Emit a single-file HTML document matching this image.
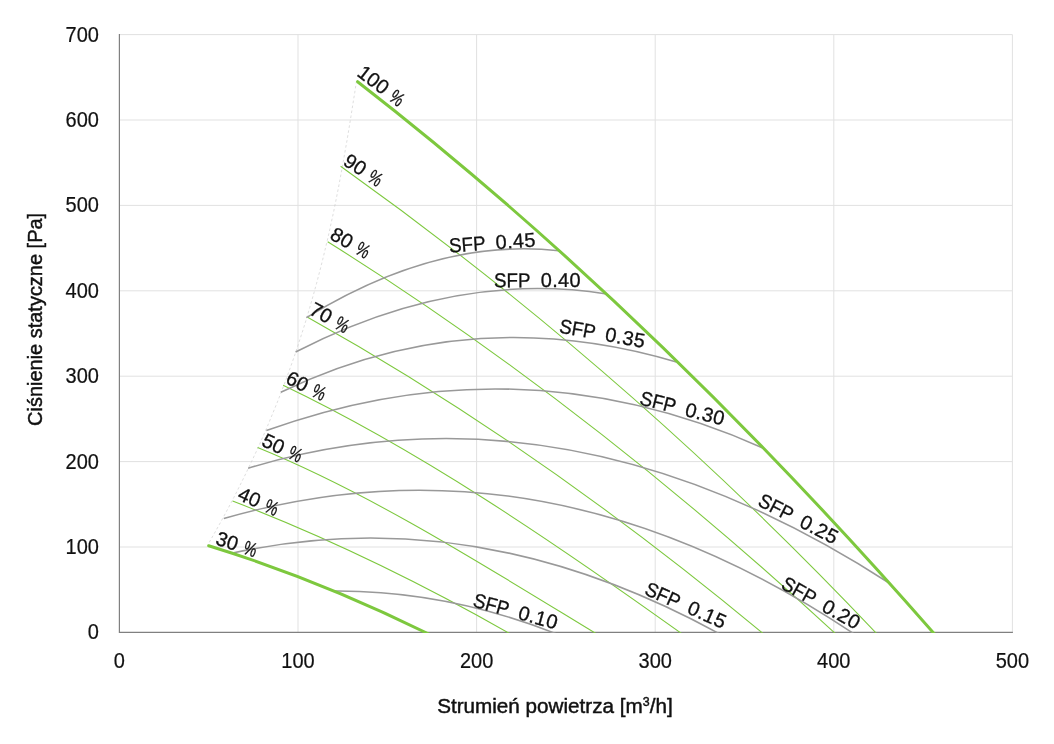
<!DOCTYPE html>
<html lang="pl">
<head>
<meta charset="utf-8">
<title>Charakterystyka wentylatora</title>
<style>
html,body{margin:0;padding:0;background:#fff;}
body{width:1054px;height:744px;overflow:hidden;}
svg{display:block;will-change:transform;font-family:"Liberation Sans",Arial,sans-serif;fill:#111;}
.grid line{stroke:#e1e1e1;stroke-width:1;}
.axis{stroke:#808080;stroke-width:1.2;fill:none;}
.tick{font-size:20px;stroke:#111;stroke-width:.2px;}
.title{font-size:20px;stroke:#111;stroke-width:.45px;}
.fan path{fill:none;stroke:#7dc83e;stroke-width:1.05;}
.fan path.thick{stroke-width:3;stroke-linecap:round;}
.sfp path{fill:none;stroke:#999;stroke-width:1.55;}
.bound{fill:none;stroke:#c8c8c8;stroke-width:.6;stroke-dasharray:2.6 2.4;}
.lab{font-size:20px;stroke:#111;stroke-width:.3px;}
</style>
</head>
<body>
<svg width="1054" height="744" viewBox="0 0 1054 744">
<rect width="1054" height="744" fill="#fff"/>

<g class="grid">
<line x1="119.4" y1="547.0" x2="1012.4" y2="547.0"/>
<line x1="119.4" y1="461.6" x2="1012.4" y2="461.6"/>
<line x1="119.4" y1="376.2" x2="1012.4" y2="376.2"/>
<line x1="119.4" y1="290.8" x2="1012.4" y2="290.8"/>
<line x1="119.4" y1="205.4" x2="1012.4" y2="205.4"/>
<line x1="119.4" y1="120.0" x2="1012.4" y2="120.0"/>
<line x1="119.4" y1="34.6" x2="1012.4" y2="34.6"/>
<line x1="298.0" y1="34.6" x2="298.0" y2="632.4"/>
<line x1="476.6" y1="34.6" x2="476.6" y2="632.4"/>
<line x1="655.2" y1="34.6" x2="655.2" y2="632.4"/>
<line x1="833.8" y1="34.6" x2="833.8" y2="632.4"/>
<line x1="1012.4" y1="34.6" x2="1012.4" y2="632.4"/>
</g>
<path class="axis" d="M119.4 34.1V632.4H1012.9"/>
<clipPath id="plot"><rect x="0" y="0" width="1054" height="633.0"/></clipPath>
<g clip-path="url(#plot)">
<path class="bound" d="M356.5 80.9 L354.7 92.8 L352.8 104.7 L350.9 116.6 L349.0 128.5 L347.0 140.4 L344.9 152.3 L342.8 164.2 L340.6 176.1 L338.4 188.0 L336.0 200.0 L333.6 211.9 L331.0 223.8 L328.4 235.7 L325.6 247.6 L322.7 259.5 L319.7 271.4 L316.6 283.3 L313.3 295.2 L309.9 307.1 L306.4 319.0 L302.7 330.9 L298.8 342.8 L294.9 354.7 L290.7 366.6 L286.4 378.5 L281.9 390.4 L277.3 402.3 L272.4 414.2 L267.5 426.1 L262.3 438.1 L257.0 450.0 L251.4 461.9 L245.7 473.8 L239.8 485.7 L233.8 497.6 L227.5 509.5 L221.1 521.4 L214.4 533.3 L207.6 545.2"/>
<g class="fan">
<path d="M340.6 166.2C520.2 294.1 699.8 446.0 879.4 636.5"/>
<path d="M327.7 241.8C497.8 347.9 667.9 478.9 838.0 636.0"/>
<path d="M307.6 317.2C460.3 402.4 612.9 508.6 765.6 635.6"/>
<path d="M283.1 385.3C416.7 449.1 550.3 539.4 683.9 635.2"/>
<path d="M257.6 447.6C371.0 493.8 484.5 565.7 597.9 634.7"/>
<path d="M232.6 501.0C325.6 536.9 418.5 581.5 511.5 634.6"/>
</g>
<g class="sfp">
<path d="M306.4 317.7C390.6 265.9 474.8 241.4 559.0 250.8"/>
<path d="M295.6 352.0C399.3 298.3 502.9 277.9 606.6 293.9"/>
<path d="M280.8 392.3C412.7 328.6 544.5 322.9 676.4 362.0"/>
<path d="M266.4 430.6C432.1 370.7 597.7 374.3 763.4 448.2"/>
<path d="M248.1 468.2C462.0 404.0 676.0 445.0 889.9 583.5"/>
<path d="M223.8 518.5C434.4 457.8 645.0 493.8 855.6 634.9"/>
<path d="M233.8 552.8C396.1 517.7 558.4 545.2 720.7 634.5"/>
<path d="M332.6 591.0C407.3 590.3 481.9 604.5 556.6 633.9"/>
</g>
<g class="fan">
<path class="thick" d="M357.6 81.7C550.7 231.4 743.9 416.0 937.0 636.9"/>
<path class="thick" d="M208.7 545.7C282.2 568.4 355.8 597.9 429.3 634.3"/>
</g>
</g>
<g class="tick">
<text transform="translate(98.9 639.3) scale(1 1.06)" text-anchor="end">0</text>
<text transform="translate(98.9 553.9) scale(1 1.06)" text-anchor="end">100</text>
<text transform="translate(98.9 468.5) scale(1 1.06)" text-anchor="end">200</text>
<text transform="translate(98.9 383.1) scale(1 1.06)" text-anchor="end">300</text>
<text transform="translate(98.9 297.7) scale(1 1.06)" text-anchor="end">400</text>
<text transform="translate(98.9 212.3) scale(1 1.06)" text-anchor="end">500</text>
<text transform="translate(98.9 126.9) scale(1 1.06)" text-anchor="end">600</text>
<text transform="translate(98.9 41.5) scale(1 1.06)" text-anchor="end">700</text>
<text transform="translate(119.4 668.0) scale(1 1.06)" text-anchor="middle">0</text>
<text transform="translate(298.0 668.0) scale(1 1.06)" text-anchor="middle">100</text>
<text transform="translate(476.6 668.0) scale(1 1.06)" text-anchor="middle">200</text>
<text transform="translate(655.2 668.0) scale(1 1.06)" text-anchor="middle">300</text>
<text transform="translate(833.8 668.0) scale(1 1.06)" text-anchor="middle">400</text>
<text transform="translate(1012.4 668.0) scale(1 1.06)" text-anchor="middle">500</text>
</g>
<text class="title" transform="translate(41.8 319.4) rotate(-90)" text-anchor="middle" textLength="213.0" lengthAdjust="spacingAndGlyphs">Ciśnienie statyczne [Pa]</text>
<text class="title" x="554.9" y="713.0" text-anchor="middle" textLength="235.5" lengthAdjust="spacingAndGlyphs">Strumień powietrza [m<tspan font-size="12" dy="-6.8">3</tspan><tspan dy="6.8">/h]</tspan></text>
<g class="lab">
<text transform="translate(356.0 75.0) rotate(37.5)" xml:space="preserve">100<tspan> </tspan><tspan dx="1.2" textLength="13" lengthAdjust="spacingAndGlyphs">%</tspan></text>
<text transform="translate(342.1 164.2) rotate(33.5)" xml:space="preserve">90<tspan> </tspan><tspan dx="1.2" textLength="13" lengthAdjust="spacingAndGlyphs">%</tspan></text>
<text transform="translate(328.8 238.2) rotate(30.0)" xml:space="preserve">80<tspan> </tspan><tspan dx="1.2" textLength="13" lengthAdjust="spacingAndGlyphs">%</tspan></text>
<text transform="translate(308.0 313.4) rotate(29.0)" xml:space="preserve">70<tspan> </tspan><tspan dx="1.2" textLength="13" lengthAdjust="spacingAndGlyphs">%</tspan></text>
<text transform="translate(284.4 382.5) rotate(26.5)" xml:space="preserve">60<tspan> </tspan><tspan dx="1.2" textLength="13" lengthAdjust="spacingAndGlyphs">%</tspan></text>
<text transform="translate(260.4 445.2) rotate(25.0)" xml:space="preserve">50<tspan> </tspan><tspan dx="1.2" textLength="13" lengthAdjust="spacingAndGlyphs">%</tspan></text>
<text transform="translate(236.6 499.1) rotate(24.0)" xml:space="preserve">40<tspan> </tspan><tspan dx="1.2" textLength="13" lengthAdjust="spacingAndGlyphs">%</tspan></text>
<text transform="translate(214.5 543.9) rotate(19.0)" xml:space="preserve">30<tspan> </tspan><tspan dx="1.2" textLength="13" lengthAdjust="spacingAndGlyphs">%</tspan></text>
<text transform="translate(449.5 252.5) rotate(-4.0)" xml:space="preserve"><tspan textLength="46.6" lengthAdjust="spacingAndGlyphs">SFP  </tspan><tspan textLength="39.9">0.45</tspan></text>
<text transform="translate(494.1 287.3) rotate(-0.3)" xml:space="preserve"><tspan textLength="46.6" lengthAdjust="spacingAndGlyphs">SFP  </tspan><tspan textLength="39.9">0.40</tspan></text>
<text transform="translate(558.5 332.6) rotate(10.2)" xml:space="preserve"><tspan textLength="46.6" lengthAdjust="spacingAndGlyphs">SFP  </tspan><tspan textLength="39.9">0.35</tspan></text>
<text transform="translate(638.8 404.2) rotate(14.2)" xml:space="preserve"><tspan textLength="46.6" lengthAdjust="spacingAndGlyphs">SFP  </tspan><tspan textLength="39.9">0.30</tspan></text>
<text transform="translate(756.8 504.9) rotate(27.3)" xml:space="preserve"><tspan textLength="46.6" lengthAdjust="spacingAndGlyphs">SFP  </tspan><tspan textLength="39.9">0.25</tspan></text>
<text transform="translate(779.9 587.7) rotate(29.3)" xml:space="preserve"><tspan textLength="46.6" lengthAdjust="spacingAndGlyphs">SFP  </tspan><tspan textLength="39.9">0.20</tspan></text>
<text transform="translate(643.4 593.9) rotate(24.0)" xml:space="preserve"><tspan textLength="46.6" lengthAdjust="spacingAndGlyphs">SFP  </tspan><tspan textLength="39.9">0.15</tspan></text>
<text transform="translate(472.0 606.3) rotate(15.5)" xml:space="preserve"><tspan textLength="46.6" lengthAdjust="spacingAndGlyphs">SFP  </tspan><tspan textLength="39.9">0.10</tspan></text>
</g>
</svg>
</body>
</html>
